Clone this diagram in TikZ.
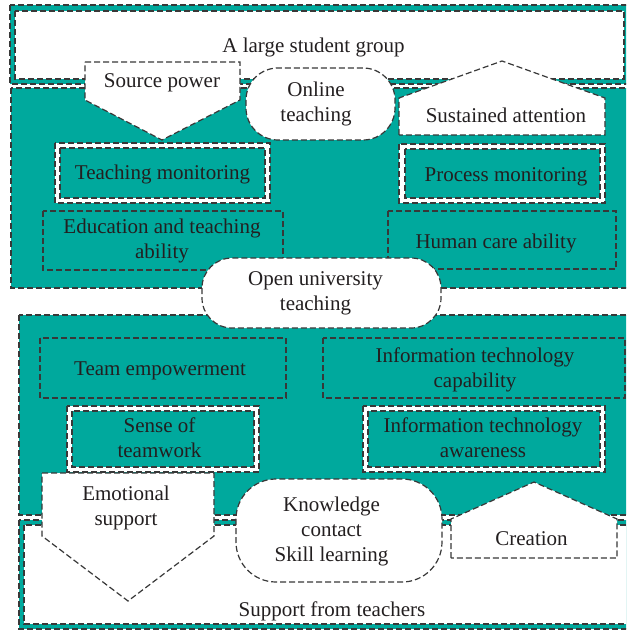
\documentclass[tikz,border=0pt]{standalone}
\usepackage{fontspec}
\setmainfont{Liberation Serif}
\definecolor{panelteal}{HTML}{00A99D}
\definecolor{edgegray}{HTML}{383838}
\definecolor{inkgray}{HTML}{231F20}
\begin{document}
\begin{tikzpicture}[x=1pt,y=-1pt,
  outline/.style={draw=edgegray, line width=1.2pt, dash pattern=on 6pt off 3pt},
  panel/.style={outline, fill=panelteal},
  blank/.style={outline, fill=white},
  % the base anchor of a label sits on the baseline of its last line
  txt/.style={font=\fontsize{21}{25}\selectfont, text=inkgray, align=center,
    inner sep=0pt, anchor=base}]
\useasboundingbox (0,0) rectangle (626,631);
\clip (0,0) rectangle (626,631);

% framed band at the top
\path[panel] (10,5) rectangle (640,84);
\path[blank] (15,11) rectangle (624,79);

% upper and lower teal panels
\path[panel] (11,88) rectangle (640,288);
\path[panel] (19,315) rectangle (640,515);

% framed band at the bottom
\path[panel] (19,520) rectangle (640,629);
\path[blank] (24,525) rectangle (640,624);

% shapes of the upper panel
\path[blank] (85,62) -- (240,62) -- (240,100) -- (162,140) -- (85,100) -- cycle;
\path[blank, rounded corners=32pt] (246,68) rectangle (395,140);
\path[blank] (399,135) -- (399,98) -- (502,61) -- (605,98) -- (605,135) -- cycle;

\path[blank] (55,143) rectangle (270,203);
\path[panel] (60,148) rectangle (265,198);
\path[blank] (399,144) rectangle (605,203);
\path[panel] (405,149) rectangle (600,198);

\path[outline] (43,211) rectangle (283,270);
\path[outline] (388,211) rectangle (616,269);

% central capsule
\path[blank, rounded corners=30pt] (202,258) rectangle (441,328);

% shapes of the lower panel
\path[outline] (40,338) rectangle (286,398);
\path[outline] (323,338) rectangle (625,398);

\path[blank] (67,406) rectangle (259,472);
\path[panel] (72,411) rectangle (254,467);
\path[blank] (363,406) rectangle (605,472);
\path[panel] (368,411) rectangle (600,467);

\path[blank] (42,473) -- (214,473) -- (214,536) -- (128,601) -- (42,536) -- cycle;
\path[blank, rounded corners=40pt] (236,479) rectangle (442,582);
\path[blank] (451,558) -- (451,519) -- (534,482) -- (617,519) -- (617,558) -- cycle;

% labels
\node[txt] (group)    at (313.5,53)  {A large student group};
\node[txt] (source)   at (162,88)    {Source power};
\node[txt] (online)   at (316,122)   {Online\\teaching};
\node[txt] (attend)   at (506,123)   {Sustained attention};
\node[txt] (teachmon) at (162.5,179) {Teaching monitoring};
\node[txt] (procmon)  at (506,182)   {Process monitoring};
\node[txt] (eduabil)  at (162,258)   {Education and teaching\\ability};
\node[txt] (care)     at (496,248)   {Human care ability};
\node[txt] (openuni)  at (315.5,310) {Open university\\teaching};
\node[txt] (teamemp)  at (160,375)   {Team empowerment};
\node[txt] (itcap)    at (475,387)   {Information technology\\capability};
\node[txt] (teamwork) at (159.5,457) {Sense of\\teamwork};
\node[txt] (itaware)  at (483,457)   {Information technology\\awareness};
\node[txt] (emotion)  at (126,525)   {Emotional\\support};
\node[txt] (knowl)    at (331.5,561) {Knowledge\\contact\\Skill learning};
\node[txt] (creation) at (531.5,545) {Creation};
\node[txt] (support)  at (332,616)   {Support from teachers};
\end{tikzpicture}
\end{document}
